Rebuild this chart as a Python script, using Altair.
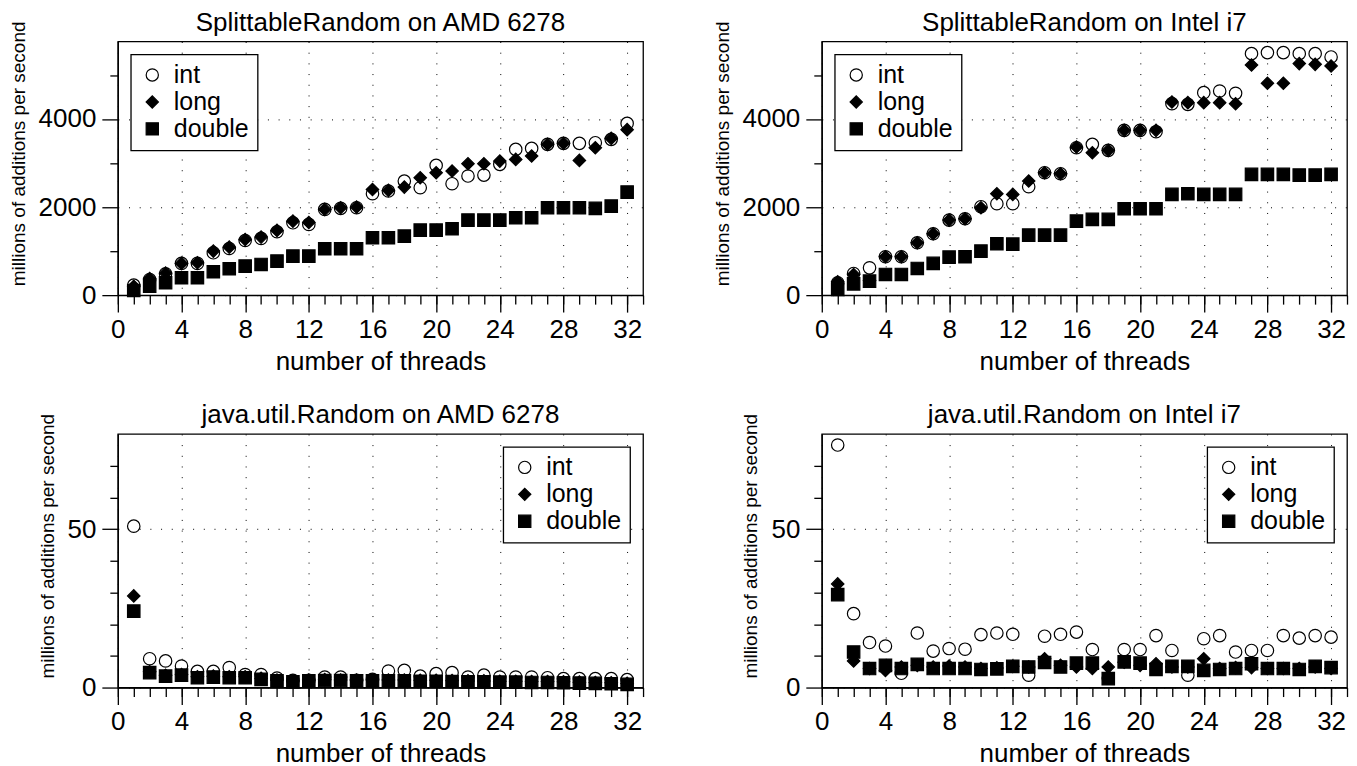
import altair as alt
import pandas as pd

FONT = "Liberation Sans"
threads = list(range(1, 33))
types = ["int", "long", "double"]

# SplittableRandom on AMD 6278
p1_int = [227, 356, 485, 720, 720, 962, 1060, 1242, 1288, 1440, 1643, 1606, 1947, 1970, 1985, 2303,
          2364, 2590, 2440, 2947, 2530, 2705, 2727, 2970, 3310, 3333, 3424, 3447, 3447, 3462, 3538, 3900]
p1_long = [200, 379, 500, 720, 735, 1000, 1090, 1265, 1318, 1470, 1680, 1650, 1947, 1985, 2000, 2400,
           2380, 2454, 2667, 2780, 2818, 2985, 2985, 3045, 3083, 3159, 3424, 3447, 3060, 3348, 3560, 3758]
p1_double = [106, 204, 280, 394, 394, 530, 600, 660, 697, 773, 886, 886, 1053, 1053, 1053, 1303,
             1303, 1340, 1477, 1477, 1508, 1705, 1705, 1705, 1758, 1758, 1985, 1985, 1985, 1970, 2023, 2341]

# SplittableRandom on Intel i7
p2_int = [280, 492, 620, 871, 871, 1189, 1394, 1705, 1735, 2008, 2076, 2076, 2462, 2780, 2758, 3348,
          3424, 3288, 3742, 3742, 3712, 4348, 4333, 4598, 4636, 4583, 5485, 5508, 5508, 5485, 5485, 5409]
p2_long = [303, 470, 330, 871, 871, 1189, 1394, 1705, 1735, 1985, 2303, 2288, 2591, 2780, 2758, 3363,
           3235, 3288, 3742, 3742, 3742, 4386, 4371, 4371, 4371, 4348, 5227, 4811, 4811, 5258, 5242, 5205]
p2_double = [129, 257, 318, 470, 470, 606, 720, 864, 871, 1000, 1167, 1159, 1364, 1364, 1364, 1682,
             1720, 1720, 1962, 1962, 1962, 2288, 2303, 2288, 2288, 2288, 2742, 2742, 2742, 2727, 2727, 2742]

# java.util.Random on AMD 6278
p3_int = [50.9, 9.1, 8.4, 6.8, 5.1, 5.1, 6.3, 4.1, 4.1, 3.0, 2.3, 2.3, 3.3, 3.3, 2.3, 2.6,
          5.2, 5.4, 3.6, 4.4, 4.7, 3.3, 3.9, 3.3, 3.3, 3.3, 3.1, 2.8, 2.8, 2.8, 2.8, 2.5]
p3_long = [28.9, 5.0, 3.9, 4.1, 3.4, 3.6, 3.4, 3.4, 2.9, 2.4, 2.1, 2.4, 2.5, 2.4, 2.4, 2.4,
           2.4, 2.4, 2.3, 2.3, 2.2, 2.1, 2.1, 2.0, 2.0, 1.9, 1.9, 1.8, 1.7, 1.6, 1.5, 1.3]
p3_double = [24.1, 4.7, 3.6, 3.9, 3.1, 3.3, 3.1, 3.1, 2.6, 2.1, 1.8, 2.1, 2.2, 2.2, 2.1, 2.1,
             2.1, 2.1, 2.0, 2.0, 1.9, 1.8, 1.8, 1.7, 1.7, 1.6, 1.6, 1.5, 1.4, 1.3, 1.2, 1.0]

# java.util.Random on Intel i7
p4_int = [76.5, 23.3, 14.2, 13.1, 4.5, 17.2, 11.5, 12.3, 12.1, 16.7, 17.2, 16.8, 3.9, 16.2, 16.8, 17.5,
          12.0, 3.0, 12.0, 12.0, 16.4, 11.7, 3.9, 15.4, 16.4, 11.2, 11.7, 11.7, 16.4, 15.6, 16.4, 15.9]
p4_long = [32.7, 8.4, 6.0, 5.4, 6.5, 7.0, 6.5, 6.8, 6.5, 6.0, 6.2, 6.7, 6.5, 9.1, 7.0, 6.5,
           6.0, 6.5, 8.0, 7.0, 7.5, 6.5, 6.5, 9.1, 6.0, 6.3, 6.3, 6.0, 6.0, 6.0, 6.5, 6.0]
p4_double = [29.3, 11.2, 6.0, 7.0, 6.0, 7.3, 6.0, 6.0, 6.0, 5.7, 5.9, 6.7, 6.5, 7.9, 6.5, 7.7,
             7.7, 2.8, 8.1, 7.7, 5.7, 6.7, 6.7, 5.4, 5.7, 6.0, 7.5, 6.0, 6.0, 5.7, 6.7, 6.3]

x_major = [0, 4, 8, 12, 16, 20, 24, 28, 32]
x_minor = list(range(0, 34))

W, H = 526, 254


def panel(title, ints, longs, doubles, ymax, ymajor, yminor, legend_orient):
    rows = []
    for name, vals in zip(types, [ints, longs, doubles]):
        for t, v in zip(threads, vals):
            rows.append({"threads": t, "value": v, "type": name})
    df = pd.DataFrame(rows)
    base = alt.Chart(df)
    xs = alt.Scale(domain=[0, 33], nice=False, zero=False)
    ys = alt.Scale(domain=[0, ymax], nice=False, zero=False)

    minor = base.mark_point(opacity=0).encode(
        x=alt.X("threads:Q", scale=xs,
                axis=alt.Axis(values=x_minor, labels=False, tickSize=9, grid=False,
                              domain=False, title=None, orient="bottom")),
        y=alt.Y("value:Q", scale=ys,
                axis=alt.Axis(values=yminor, labels=False, tickSize=8, grid=False,
                              domain=False, title=None, orient="left")),
    )
    leg = alt.Legend(title=None, orient=legend_orient, offset=13,
                     symbolStrokeColor="black", symbolStrokeWidth=1.2)
    pts = base.mark_point(filled=True, size=155, strokeWidth=1.2, opacity=1).encode(
        x=alt.X("threads:Q", scale=xs,
                axis=alt.Axis(values=x_major, tickSize=17, grid=True, title="number of threads",
                              titleFontSize=26, titlePadding=6, labelPadding=4, orient="bottom",
                              labelFlush=False, labelOverlap=False, format="d")),
        y=alt.Y("value:Q", scale=ys,
                axis=alt.Axis(values=ymajor, tickSize=16, grid=True, format="d",
                              title="millions of additions per second", titleFontSize=19,
                              titlePadding=10, labelPadding=6, orient="left", titleY=112,
                              labelFlush=False, labelOverlap=False)),
        shape=alt.Shape("type:N", scale=alt.Scale(domain=types, range=["circle", "diamond", "square"]),
                        legend=leg),
        fill=alt.Fill("type:N", scale=alt.Scale(domain=types, range=["white", "black", "black"]),
                      legend=leg),
        stroke=alt.Stroke("type:N", scale=alt.Scale(domain=types, range=["black", "black", "black"]),
                          legend=leg),
    )
    return alt.layer(minor, pts, title=alt.Title(title, dy=27)).resolve_axis(
        x="independent", y="independent"
    ).properties(width=W, height=H)


c1 = panel("SplittableRandom on AMD 6278", p1_int, p1_long, p1_double, 5760, [0, 2000, 4000],
           [1000, 3000, 5000], "top-left")
c2 = panel("SplittableRandom on Intel i7", p2_int, p2_long, p2_double, 5760, [0, 2000, 4000],
           [1000, 3000, 5000], "top-left")
c3 = panel("java.util.Random on AMD 6278", p3_int, p3_long, p3_double, 80, [0, 50],
           [10, 20, 30, 40, 60, 70], "top-right")
c4 = panel("java.util.Random on Intel i7", p4_int, p4_long, p4_double, 80, [0, 50],
           [10, 20, 30, 40, 60, 70], "top-right")

chart = alt.concat(c1, c2, c3, c4, columns=2, spacing={"row": 139, "column": 179}, bounds="flush"
).resolve_scale(shape="independent", fill="independent", stroke="independent"
).resolve_legend(shape="independent", fill="independent", stroke="independent"
).properties(padding={"left": 0, "top": 0, "right": 0, "bottom": 0}
).configure_view(stroke="black", strokeWidth=1.3
).configure_axis(
    domainColor="black", domainWidth=1.3, tickColor="black", tickWidth=1.3,
    labelFont=FONT, labelFontSize=26, labelColor="black",
    titleFont=FONT, titleFontWeight="normal", titleColor="black",
    gridColor="black", gridDash=[1, 9.7], gridWidth=1, gridOpacity=1,
).configure_legend(
    strokeColor="black", fillColor="white", padding=8, strokeWidth=1.3,
    labelFont=FONT, labelFontSize=25, labelColor="black",
    symbolSize=150, symbolStrokeColor="black", symbolStrokeWidth=1.2,
    rowPadding=1, labelOffset=9, symbolOffset=1,
).configure_title(
    font=FONT, fontSize=26, fontWeight="normal", color="black", offset=12,
    baseline="alphabetic", frame="group", anchor="middle",
)

chart.save("out.html", embed_options={"renderer": "svg", "actions": False})
